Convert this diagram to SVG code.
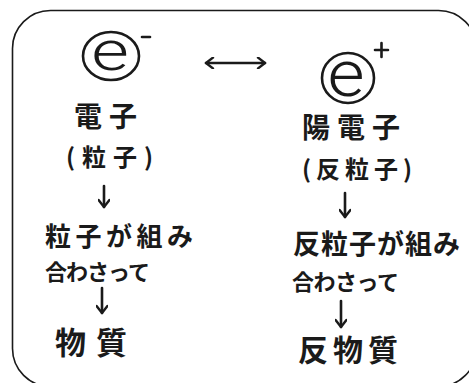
<svg xmlns="http://www.w3.org/2000/svg" width="469" height="383" viewBox="0 0 469 383">
<defs>
<style>
.jp{font-family:"Noto Sans CJK JP","Noto Sans CJK SC",sans-serif;font-weight:700;fill:#1a1a1a}
.e{font-family:Roboto,"Liberation Sans",sans-serif;font-weight:300;fill:#1a1a1a}
.ring{fill:none;stroke:#1a1a1a;stroke-width:2.6}
.ln{fill:none;stroke:#1a1a1a;stroke-width:2.6;stroke-linecap:round;stroke-linejoin:round}
</style>
<marker id="ah" viewBox="0 0 12 12" refX="10" refY="6" markerWidth="12" markerHeight="12" markerUnits="userSpaceOnUse" orient="auto-start-reverse">
<path d="M3,0.6 L10,6 L3,11.4" fill="none" stroke="#1a1a1a" stroke-width="2.4" stroke-linecap="round" stroke-linejoin="round"/>
</marker>
</defs>
<rect width="469" height="383" fill="#ffffff"/>
<rect x="12.5" y="10.5" width="464" height="376" rx="38" fill="none" stroke="#1a1a1a" stroke-width="1.6"/>
<g id="electron">
<ellipse class="ring" cx="111" cy="56" rx="28" ry="24"/>
<text class="e" x="0" y="0" font-size="56" text-anchor="middle" transform="translate(110,70) scale(1.3,1)">e</text>
<path class="ln" d="M142,37 L150,37"/>
</g>
<g id="electron-label">
<text class="jp" x="74" y="127" font-size="28" letter-spacing="7">電子</text>
<text class="jp" x="66" y="166" font-size="24" letter-spacing="7">(粒子)</text>
</g>
<g id="matter-process">
<text class="jp" x="45" y="246" font-size="26" letter-spacing="4.5">粒子が組み</text>
<text class="jp" x="45" y="280" font-size="22" letter-spacing="-1">合わさって</text>
</g>
<g id="matter">
<text class="jp" x="55" y="354" font-size="31" letter-spacing="10">物質</text>
</g>
<g id="positron">
<ellipse class="ring" cx="348" cy="78" rx="26" ry="25"/>
<text class="e" x="0" y="0" font-size="64" text-anchor="middle" transform="translate(346,96) scale(1.12,1)">e</text>
<path class="ln" d="M375,50 L388,50 M381.5,43 L381.5,57"/>
</g>
<g id="positron-label">
<text class="jp" x="302" y="138" font-size="28" letter-spacing="7">陽電子</text>
<text class="jp" x="302" y="178" font-size="24" letter-spacing="5">(反粒子)</text>
</g>
<g id="antimatter-process">
<text class="jp" x="293" y="254" font-size="27" letter-spacing="1">反粒子が組み</text>
<text class="jp" x="292" y="290" font-size="22" letter-spacing="-0.5">合わさって</text>
</g>
<g id="antimatter">
<text class="jp" x="298" y="361" font-size="30" letter-spacing="5">反物質</text>
</g>
<g id="connectors">
<path class="ln" d="M206,63 L265,63" marker-start="url(#ah)" marker-end="url(#ah)"/>
<path class="ln" d="M104,186 L104,207" marker-end="url(#ah)"/>
<path class="ln" d="M345,193 L345,217" marker-end="url(#ah)"/>
<path class="ln" d="M102,288 L102,313" marker-end="url(#ah)"/>
<path class="ln" d="M341,301 L341,327" marker-end="url(#ah)"/>
</g>
</svg>
